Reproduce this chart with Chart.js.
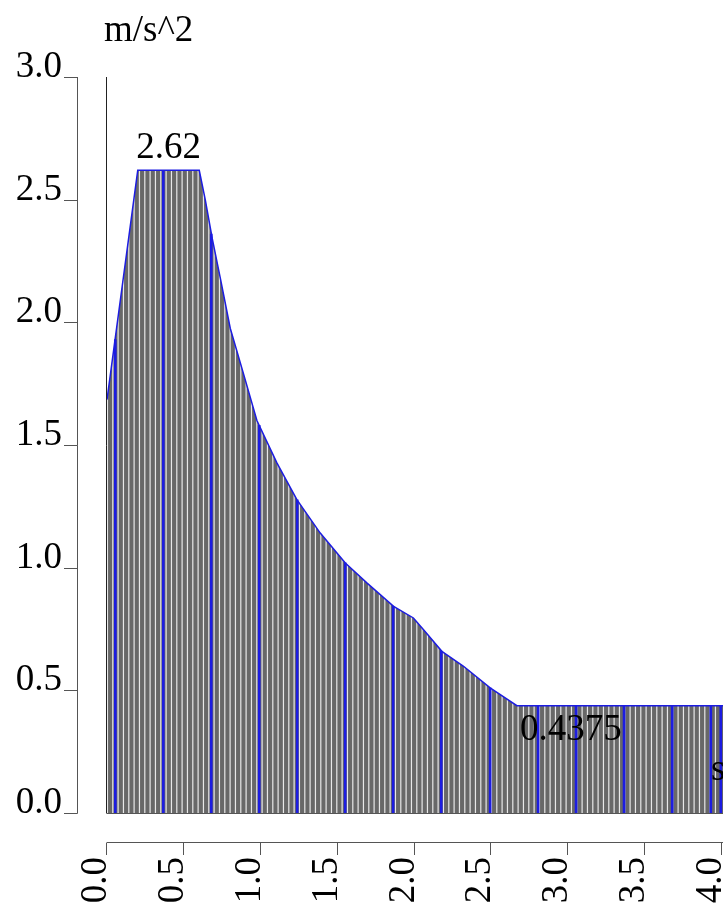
<!DOCTYPE html>
<html><head><meta charset="utf-8">
<script src="https://cdn.jsdelivr.net/npm/chart.js@4.4.1/dist/chart.umd.min.js"></script>
<style>html,body{margin:0;padding:0;background:#fff;overflow:hidden}canvas{display:block}</style>
</head><body>
<canvas id="c" width="723" height="903"></canvas>
<script>
// ---- data ----
const timeS = [0, 0.2, 0.6, 0.639, 0.685, 0.737, 0.802, 0.888, 0.975, 1.105, 1.235, 1.387, 1.55, 1.69, 1.864, 1.993, 2.059, 2.178, 2.319, 2.492, 2.666, 4.01];
const accel = [1.685, 2.62, 2.62, 2.50, 2.34, 2.18, 1.975, 1.79, 1.60, 1.427, 1.277, 1.141, 1.019, 0.938, 0.842, 0.795, 0.747, 0.659, 0.598, 0.51, 0.4375, 0.4375];
const markerTimes = [0.054, 0.366, 0.678, 0.990, 1.237, 1.549, 1.861, 2.174, 2.492, 2.804, 3.051, 3.363, 3.676, 3.927, 3.992];
const markerAccel = [1.93, 2.62, 2.36, 1.58, 1.277, 1.02, 0.843, 0.66, 0.51, 0.4375, 0.4375, 0.4375, 0.4375, 0.4375, 0.4375];
const yTicks = [0, 0.5, 1.0, 1.5, 2.0, 2.5, 3.0];
const xTicks = [0, 0.5, 1.0, 1.5, 2.0, 2.5, 3.0, 3.5, 4.0];
const yUnit = 'm/s^2';
const xUnit = 's';
const peakValue = 2.62;
const finalValue = 0.4375;

// ---- styles ----
const FONT = '37px "Liberation Serif", "Times New Roman", serif';
const BLUE = 'rgb(28,28,225)';

function stripePattern() {
  const p = document.createElement('canvas');
  p.width = 16; p.height = 4;
  const g = p.getContext('2d');
  g.fillStyle = '#686868';
  g.fillRect(0, 0, 16, 4);
  g.fillStyle = '#e8e8e8';
  [0.2, 5.5, 10.85].forEach(x => g.fillRect(x, 0, 1.2, 4));
  return document.getElementById('c').getContext('2d').createPattern(p, 'repeat');
}

const decorations = {
  id: 'decorations',
  afterDatasetsDraw(chart) {
    const ctx = chart.ctx;
    const xs = chart.scales.x, ys = chart.scales.y;
    const ca = chart.chartArea;
    ctx.save();
    // plot frame (left + bottom)
    ctx.strokeStyle = '#222';
    ctx.lineWidth = 1;
    ctx.beginPath();
    ctx.moveTo(ca.left - 0.5, ys.getPixelForValue(3.0));
    ctx.lineTo(ca.left - 0.5, ca.bottom + 0.5);
    ctx.stroke();
    ctx.strokeStyle = '#555';
    ctx.beginPath();
    ctx.moveTo(ca.left, ca.bottom + 0.5);
    ctx.lineTo(ca.right, ca.bottom + 0.5);
    ctx.stroke();

    // y axis (offset to the left)
    const axX = 77.5;
    ctx.strokeStyle = '#555';
    ctx.beginPath();
    ctx.moveTo(axX, ys.getPixelForValue(yTicks[yTicks.length - 1]));
    ctx.lineTo(axX, ys.getPixelForValue(yTicks[0]) + 0.5);
    ctx.stroke();
    ctx.font = FONT;
    ctx.fillStyle = '#000';
    ctx.textAlign = 'right';
    ctx.textBaseline = 'alphabetic';
    yTicks.forEach(v => {
      const y = Math.round(ys.getPixelForValue(v)) + 0.5;
      ctx.beginPath();
      ctx.moveTo(64, y); ctx.lineTo(axX, y);
      ctx.stroke();
      ctx.fillText(v.toFixed(1), 62, y - 0.5);
    });

    // x axis (offset below)
    const axY = 842.5;
    ctx.beginPath();
    ctx.moveTo(xs.getPixelForValue(xTicks[0]), axY);
    ctx.lineTo(ca.right, axY);
    ctx.stroke();
    xTicks.forEach(v => {
      const x = Math.round(xs.getPixelForValue(v)) - 0.5;
      ctx.beginPath();
      ctx.moveTo(x, axY); ctx.lineTo(x, 855);
      ctx.stroke();
      ctx.save();
      ctx.translate(x - 1, 857);
      ctx.rotate(-Math.PI / 2);
      ctx.textAlign = 'right';
      ctx.textBaseline = 'alphabetic';
      ctx.fillText(v.toFixed(1), 0, 0);
      ctx.restore();
    });

    // unit labels
    ctx.textAlign = 'left';
    ctx.fillText(yUnit, 104, 41);
    ctx.fillText(xUnit, 711, 780);

    // value annotations
    ctx.textAlign = 'center';
    const peakX = (xs.getPixelForValue(timeS[1]) + xs.getPixelForValue(timeS[2])) / 2;
    ctx.fillText(peakValue.toString(), peakX, ys.getPixelForValue(peakValue) - 12);
    ctx.textAlign = 'left';
    ctx.fillText(finalValue.toString(), xs.getPixelForValue(timeS[timeS.length - 2]) + 3, ys.getPixelForValue(finalValue) + 34);
    ctx.restore();
  }
};

new Chart(document.getElementById('c'), {
  type: 'line',
  data: {
    datasets: [
      {
        type: 'bar',
        order: 0,
        data: markerTimes.map((t, i) => ({ x: t, y: markerAccel[i] })),
        backgroundColor: BLUE,
        borderWidth: 0,
        barThickness: 2
      },
      {
        type: 'line',
        order: 1,
        data: timeS.map((t, i) => ({ x: t, y: accel[i] })),
        borderColor: BLUE,
        borderWidth: 1.5,
        backgroundColor: stripePattern(),
        fill: 'origin',
        tension: 0,
        pointRadius: 0
      }
    ]
  },
  options: {
    responsive: false,
    animation: false,
    devicePixelRatio: 1,
    layout: { padding: { left: 107, top: 77, right: 0, bottom: 90 } },
    plugins: { legend: { display: false }, tooltip: { enabled: false } },
    scales: {
      x: { type: 'linear', min: 0, max: 4.0065, offset: false, display: false },
      y: { type: 'linear', min: 0, max: 3.0, display: false }
    }
  },
  plugins: [decorations]
});
</script>
</body></html>
